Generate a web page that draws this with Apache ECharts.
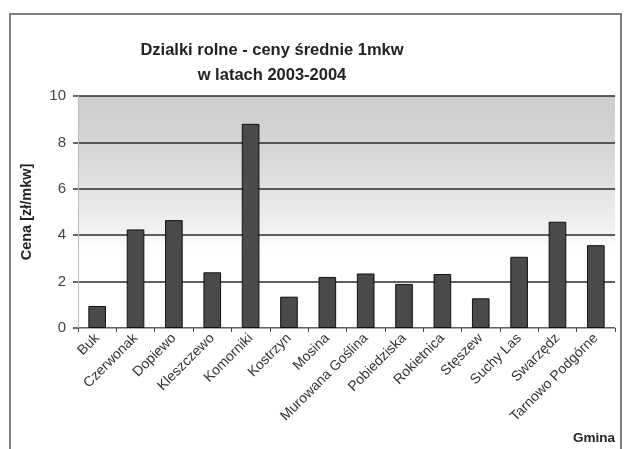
<!DOCTYPE html>
<html>
<head>
<meta charset="utf-8">
<script src="https://cdn.jsdelivr.net/npm/echarts@6/dist/echarts.min.js"></script>
<style>
  html, body { margin: 0; padding: 0; background: #fff; }
  #chart { width: 625px; height: 449px; }
</style>
</head>
<body>
<div id="chart"></div>
<script>
// Gminy (municipalities) and average price per m² of farmland
var gminy = ['Buk', 'Czerwonak', 'Dopiewo', 'Kleszczewo', 'Komorniki', 'Kostrzyn', 'Mosina',
  'Murowana Goślina', 'Pobiedziska', 'Rokietnica', 'Stęszew', 'Suchy Las', 'Swarzędz', 'Tarnowo Podgórne'];
var ceny = [0.95, 4.25, 4.65, 2.4, 8.8, 1.35, 2.2, 2.35, 1.9, 2.33, 1.28, 3.07, 4.58, 3.57];
var yTicks = [0, 2, 4, 6, 8, 10];

var font = 'Liberation Sans, Arial, sans-serif';
var chart = echarts.init(document.getElementById('chart'), null, { renderer: 'canvas' });

chart.setOption({
  backgroundColor: '#fff',
  animation: false,
  title: {
    text: 'Dzialki rolne - ceny średnie 1mkw\nw latach 2003-2004',
    left: 267,
    textAlign: 'center',
    top: 33,
    textStyle: { fontFamily: font, fontSize: 16.5, fontWeight: 'bold', color: '#222', lineHeight: 25 }
  },
  graphic: [
    { type: 'polyline', shape: { points: [[10, 449], [10, 14], [621, 14], [621, 449]] },
      style: { stroke: '#555', lineWidth: 1.5, fill: null } }
  ],
  grid: {
    left: 78, right: 10, top: 96, bottom: 121,
    show: true,
    borderWidth: 0,
    backgroundColor: {
      type: 'linear', x: 0, y: 0, x2: 0, y2: 1,
      colorStops: [
        { offset: 0, color: '#cdcdcd' },
        { offset: 0.2, color: '#d4d4d4' },
        { offset: 0.4, color: '#e2e2e2' },
        { offset: 0.58, color: '#f2f2f2' },
        { offset: 0.66, color: '#ffffff' },
        { offset: 1, color: '#ffffff' }
      ]
    }
  },
  xAxis: {
    type: 'category',
    data: gminy,
    name: 'Gmina',
    nameLocation: 'end',
    nameGap: 0,
    nameTextStyle: { fontFamily: font, fontSize: 13.5, fontWeight: 'bold', color: '#222',
      align: 'right', verticalAlign: 'top', padding: [103, 0, 0, 0] },
    axisLine: { lineStyle: { color: '#aaa', width: 1 } },
    axisTick: { show: true, length: 4, lineStyle: { color: '#444' } },
    axisLabel: {
      interval: 0, rotate: 45, margin: 8,
      fontFamily: font, fontSize: 14, color: '#333'
    }
  },
  yAxis: {
    type: 'value',
    min: yTicks[0], max: yTicks[yTicks.length - 1], interval: 2,
    name: 'Cena [zł/mkw]',
    nameLocation: 'middle',
    nameGap: 44,
    nameRotate: 90,
    nameTextStyle: { fontFamily: font, fontSize: 14.5, fontWeight: 'bold', color: '#222' },
    axisLine: { show: true, lineStyle: { color: '#bbb', width: 1 } },
    axisTick: { show: true, length: 5, lineStyle: { color: '#333', width: 1.5 } },
    axisLabel: { fontFamily: font, fontSize: 15, color: '#444', margin: 12 },
    splitLine: { show: true, lineStyle: { color: '#2a2a2a', width: 1.5 } }
  },
  series: [{
    type: 'bar',
    data: ceny,
    barWidth: '46%',
    itemStyle: { color: '#4a4a4a', borderColor: '#111', borderWidth: 1 }
  }]
});
</script>
</body>
</html>
